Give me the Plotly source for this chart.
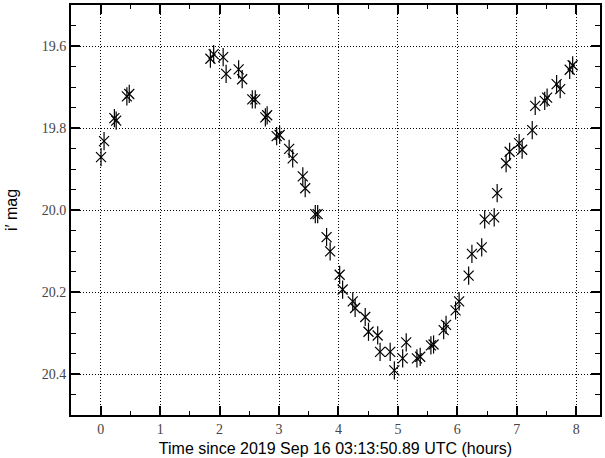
import plotly.graph_objects as go

# Time since 2019 Sep 16 03:13:50.89 UTC (hours)
time_h = [0.005, 0.056, 0.23, 0.26, 0.44, 0.48,
          1.845, 1.90, 2.06, 2.11, 2.32, 2.38, 2.55, 2.60, 2.77, 2.80,
          2.96, 3.01, 3.17, 3.23, 3.40, 3.44, 3.61, 3.65, 3.80, 3.86,
          4.02, 4.07, 4.24, 4.28, 4.45, 4.505, 4.66, 4.70, 4.87, 4.94,
          5.08, 5.14, 5.32, 5.375, 5.555, 5.60, 5.77, 5.81, 5.97, 6.03,
          6.19, 6.245, 6.41, 6.46, 6.62, 6.67, 6.82, 6.88, 7.04, 7.09,
          7.26, 7.31, 7.47, 7.51, 7.67, 7.73, 7.89, 7.94]
# i' magnitude
imag = [19.871, 19.832, 19.776, 19.782, 19.723, 19.717,
        19.631, 19.620, 19.627, 19.668, 19.657, 19.681, 19.730, 19.730, 19.774, 19.769,
        19.820, 19.817, 19.851, 19.874, 19.918, 19.947, 20.010, 20.010, 20.066, 20.101,
        20.158, 20.194, 20.223, 20.239, 20.261, 20.297, 20.306, 20.346, 20.346, 20.391,
        20.362, 20.323, 20.362, 20.358, 20.330, 20.328, 20.293, 20.280, 20.245, 20.223,
        20.160, 20.107, 20.091, 20.023, 20.018, 19.959, 19.886, 19.858, 19.837, 19.853,
        19.805, 19.746, 19.734, 19.726, 19.693, 19.705, 19.658, 19.647]

x_ticks = [0, 1, 2, 3, 4, 5, 6, 7, 8]
y_ticks = [19.6, 19.8, 20.0, 20.2, 20.4]
y_tick_labels = ["19.6", "19.8", "20.0", "20.2", "20.4"]

fig = go.Figure()
# asterisk: diagonal cross + vertical bar
fig.add_trace(go.Scatter(x=time_h, y=imag, mode="markers",
                         marker=dict(symbol="x-thin-open", size=10, color="black",
                                     line=dict(color="black", width=1.2)),
                         showlegend=False, hoverinfo="skip"))
fig.add_trace(go.Scatter(x=time_h, y=imag, mode="markers",
                         marker=dict(symbol="line-ns-open", size=13, color="black",
                                     line=dict(color="black", width=1.2)),
                         showlegend=False))

tickfont = dict(family="Liberation Serif, DejaVu Serif, serif", size=14, color="#444")
titlefont = dict(family="Liberation Sans, Arial, sans-serif", size=16, color="black")

fig.update_layout(
    width=605, height=458,
    margin=dict(l=71, r=3, t=5, b=42),
    paper_bgcolor="white", plot_bgcolor="white",
    xaxis=dict(range=[-0.5, 8.4], tickvals=x_ticks,
               ticktext=[str(v) for v in x_ticks],
               ticks="inside", ticklen=9, tickwidth=1.5, tickcolor="black",
               minor=dict(dtick=0.5, tick0=0, ticks="inside", ticklen=4,
                          tickwidth=1.2, tickcolor="black", showgrid=False),
               showline=True, linewidth=2, linecolor="black", mirror="ticks",
               showgrid=True, gridcolor="black", gridwidth=1, griddash="1px,2px",
               zeroline=False, tickfont=tickfont,
               title=dict(text="Time since 2019 Sep 16 03:13:50.89 UTC (hours)",
                          font=titlefont, standoff=7)),
    yaxis=dict(range=[20.5, 19.5], tickvals=y_ticks, ticktext=y_tick_labels,
               ticks="inside", ticklen=9, tickwidth=1.5, tickcolor="black",
               minor=dict(dtick=0.05, tick0=19.5, ticks="inside", ticklen=5,
                          tickwidth=1.2, tickcolor="black", showgrid=False),
               showline=True, linewidth=2, linecolor="black", mirror="ticks",
               showgrid=True, gridcolor="black", gridwidth=1, griddash="1px,2px",
               zeroline=False, tickfont=tickfont,
               title=dict(text="i′ mag", font=titlefont, standoff=20)),
)

fig.write_html("out.html")
